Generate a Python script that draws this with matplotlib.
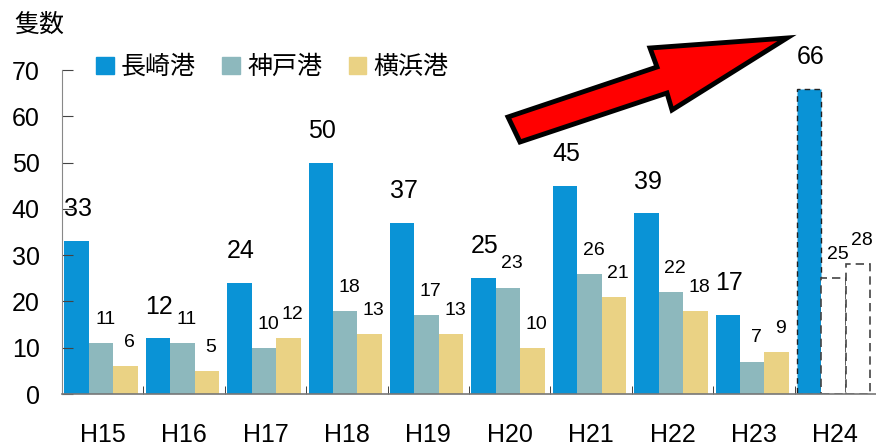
import numpy as np
import matplotlib.pyplot as plt
from matplotlib.patches import Polygon, Patch

plt.rcParams['font.family'] = ['Liberation Sans', 'Noto Sans CJK JP', 'DejaVu Sans']

###########
# data    #
###########
years = ['H15', 'H16', 'H17', 'H18', 'H19', 'H20', 'H21', 'H22', 'H23', 'H24']
nagasaki = [33, 12, 24, 50, 37, 25, 45, 39, 17, 66]
kobe = [11, 11, 10, 18, 17, 23, 26, 22, 7, 25]
yokohama = [6, 5, 12, 13, 13, 10, 21, 18, 9, 28]
series_names = ['長崎港', '神戸港', '横浜港']

blue = '#0A93D6'
teal = '#8DB8BD'
yellow = '#EAD284'

W, H = 876, 447
fig = plt.figure(figsize=(W / 100, H / 100), dpi=100)
ax = fig.add_axes([62 / W, (H - 394) / H, (876 - 62) / W, (394 - 70) / H])

x = np.arange(len(years)) - 0.02
bw = 0.3
last = len(years) - 1

# normal years
ax.bar(x[:last] - bw, nagasaki[:last], bw, color=blue, align='center')
ax.bar(x[:last], kobe[:last], bw, color=teal)
ax.bar(x[:last] + bw, yokohama[:last], bw, color=yellow)

# H24 (forecast style)
ax.bar(x[last] - bw, nagasaki[last], bw, color=blue, edgecolor='#222222',
       linestyle=(0, (4, 3)), linewidth=1.0)
ax.bar(x[last], kobe[last], bw, color='white', edgecolor='#444444',
       linestyle=(0, (5, 3)), linewidth=1.2)
ax.bar(x[last] + bw, yokohama[last], bw, color='white', edgecolor='#444444',
       linestyle=(0, (5, 3)), linewidth=1.2)

# value labels
for i in range(len(years)):
    ax.annotate(str(nagasaki[i]), (x[i] - bw, nagasaki[i]), xytext=(1, 23),
                textcoords='offset points', ha='center', va='center',
                fontsize=18, annotation_clip=False)
    ax.annotate(str(kobe[i]), (x[i], kobe[i]), xytext=(3, 17),
                textcoords='offset points', ha='center', va='center',
                fontsize=14)
    ax.annotate(str(yokohama[i]), (x[i] + bw, yokohama[i]), xytext=(3, 17),
                textcoords='offset points', ha='center', va='center',
                fontsize=14)

ax.set_xlim(-0.5, len(years) - 0.5)
ax.set_ylim(0, 70)
ax.set_yticks(range(0, 71, 10))
ax.set_xticks(np.arange(len(years)))
ax.set_xticklabels(years)
ax.set_xticks(np.arange(len(years) - 1) + 0.5, minor=True)
ax.tick_params(axis='x', which='major', length=0, labelsize=18, pad=21)
ax.tick_params(axis='x', which='minor', direction='in', length=6, color='#222222')
ax.tick_params(axis='y', direction='in', length=8, labelsize=18, pad=16,
               color='#444444')

for s in ['top', 'right']:
    ax.spines[s].set_visible(False)
ax.spines['left'].set_color('#888888')
ax.spines['bottom'].set_color('#777777')
ax.spines['bottom'].set_linewidth(1.2)

# legend
handles = [Patch(color=c) for c in (blue, teal, yellow)]
fig.legend(handles, series_names, loc='upper left', bbox_to_anchor=(86 / W, 1 - 45 / H),
           ncol=3, frameon=False, fontsize=18, handlelength=0.7, handleheight=0.7,
           handletextpad=0.3, columnspacing=1.05, borderaxespad=0)

fig.text(14 / W, 1 - 25 / H, '隻数', fontsize=18, va='center', ha='left')

# red arrow (figure pixels)
arrow_px = [(508, 117), (657, 67), (650, 48), (787, 38),
            (672, 110), (667, 93), (520, 142)]
arrow_fig = [(px / W, 1 - py / H) for px, py in arrow_px]
fig.patches.append(Polygon(arrow_fig, closed=True, facecolor='#FF0000',
                           edgecolor='black', linewidth=3.5,
                           transform=fig.transFigure, joinstyle='miter'))

fig.savefig('out.png', dpi=100)
